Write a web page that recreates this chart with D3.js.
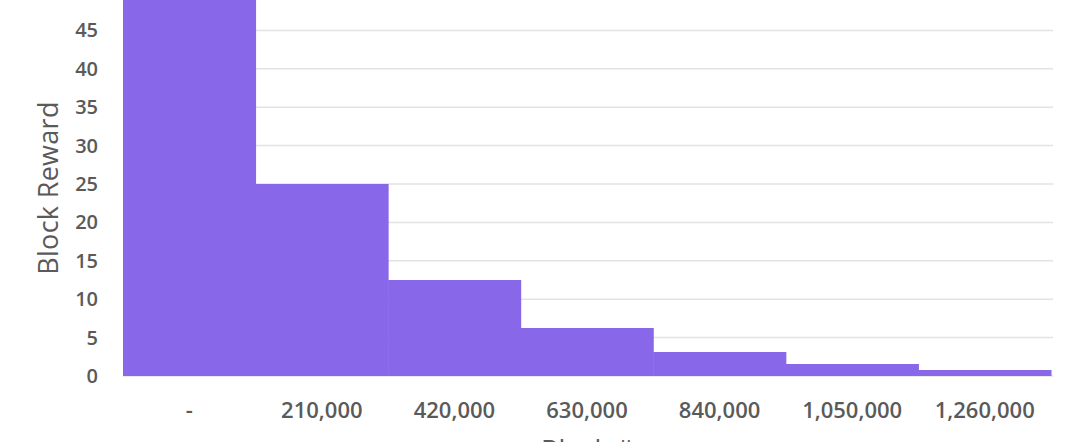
<!DOCTYPE html>
<html><head><meta charset="utf-8">
<script src="https://cdn.jsdelivr.net/npm/d3@7"></script>
<style>body{margin:0;background:#fff;} svg{display:block;}</style>
</head><body>
<svg id="c" width="1080" height="442"></svg>
<script>
const categories = ["-", "210,000", "420,000", "630,000", "840,000", "1,050,000", "1,260,000"];
const rewards = [50, 25, 12.5, 6.25, 3.125, 1.5625, 0.78125];
const yTicks = [0, 5, 10, 15, 20, 25, 30, 35, 40, 45, 50];

const svg = d3.select("#c");
const mLeft = 123, mRight = 1051, mTop = -8, mBottom = 376;
const x = d3.scaleBand().domain(categories).range([mLeft, mRight]).padding(0);
const y = d3.scaleLinear().domain([0, 50]).range([mBottom, mTop]);
const font = "'Open Sans', sans-serif";

svg.append("g").selectAll("line").data(yTicks).join("line")
  .attr("x1", mLeft).attr("x2", mRight + 2)
  .attr("y1", d => y(d)).attr("y2", d => y(d))
  .attr("stroke", "#e3e3e3").attr("stroke-width", 1.5);

svg.append("g").selectAll("rect").data(rewards).join("rect")
  .attr("x", (d, i) => x(categories[i]))
  .attr("width", x.bandwidth() + 0.5)
  .attr("y", d => y(d))
  .attr("height", d => mBottom - y(d))
  .attr("fill", "#8867e8");

const yAxis = svg.append("g").attr("transform", `translate(${mLeft},0)`)
  .call(d3.axisLeft(y).tickValues(yTicks).tickSize(0).tickPadding(25));
yAxis.select(".domain").remove();
yAxis.selectAll("text").attr("font-family", font).attr("font-size", 20).attr("font-weight", 600).attr("fill", "#5a5a5a");

const xAxis = svg.append("g").attr("transform", `translate(0,${mBottom})`)
  .call(d3.axisBottom(x).tickSize(0).tickPadding(26));
xAxis.select(".domain").remove();
xAxis.selectAll("text").attr("font-family", font).attr("font-size", 22).attr("font-weight", 600).attr("fill", "#5a5a5a");

svg.append("text").attr("transform", `translate(58,188) rotate(-90)`)
  .attr("text-anchor", "middle").attr("font-family", font).attr("font-size", 27)
  .attr("letter-spacing", 0.3)
  .attr("fill", "#5a5a5a").text("Block Reward");

svg.append("text").attr("x", (mLeft + mRight) / 2).attr("y", 460)
  .attr("text-anchor", "middle").attr("font-family", font).attr("font-size", 27)
  .attr("fill", "#5a5a5a").text("Block #");
</script>
</body></html>
